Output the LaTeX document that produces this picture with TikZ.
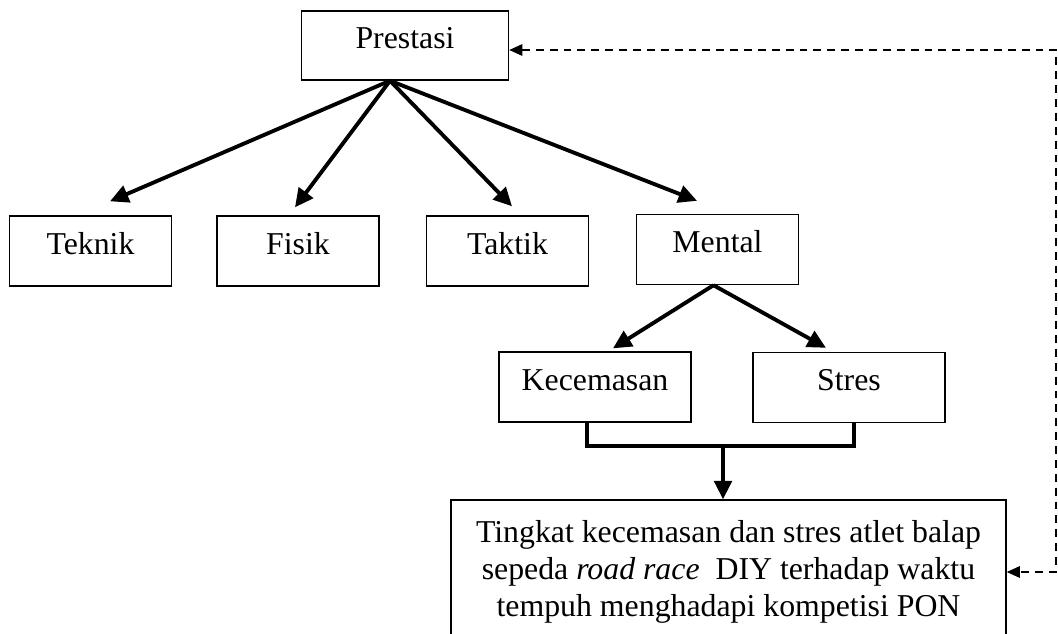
\documentclass[tikz,border=0pt]{standalone}
\usepackage{fontspec}
\setmainfont{Liberation Serif}
\usetikzlibrary{arrows.meta,positioning,calc}

\begin{document}
\begin{tikzpicture}[
    box/.style={rectangle, draw=black, line width=0.8pt, minimum width=3.24cm, minimum height=1.4cm,
      align=center, text height=0.7em, text depth=0.35em, font=\fontsize{18.1}{21}\selectfont},
    wide/.style={rectangle, draw=black, line width=0.8pt, minimum width=11.1cm, minimum height=2.88cm,
      align=center, font=\fontsize{18.1}{21}\selectfont},
    arrow/.style={line width=2.2pt, -{Triangle[length=10.5pt, width=10pt]}},
    bracket/.style={line width=2.2pt},
    feedback/.style={line width=1.1pt, dash pattern=on 4.5pt off 3.4pt,
      {Triangle[length=7.5pt, width=6.5pt]}-{Triangle[length=7.5pt, width=6.5pt]}}
  ]
    \useasboundingbox (0,0) rectangle (21.16,-12.66);
    % Top box
    \node[box, minimum width=4.14cm, minimum height=1.38cm] (prestasi) at (8.10, -0.91) {Prestasi};
    % Factor boxes
    \node[box] (teknik) at (1.81, -5.02) {Teknik};
    \node[box] (fisik) at (5.96, -5.02) {Fisik};
    \node[box] (taktik) at (10.15, -5.02) {Taktik};
    \node[box] (mental) at (14.35, -4.99) {Mental};
    % Mental factors
    \node[box, minimum width=3.84cm] (kecemasan) at (11.90, -7.74) {Kecemasan};
    \node[box, minimum width=3.84cm] (stres) at (16.98, -7.75) {Stres};
    % Research box
    \node[wide] (tingkat) at (14.57, -11.44) {
      Tingkat kecemasan dan stres atlet balap\\
      sepeda \textit{road race}\ \ DIY terhadap waktu\\
      tempuh menghadapi kompetisi PON
    };
    % Arrows
    \coordinate (apex) at ([xshift=-0.3cm]prestasi.south);
    \draw[arrow] (apex) -- ([xshift=0.39cm, yshift=0.28cm]teknik.north);
    \draw[arrow] (apex) -- ([xshift=-0.06cm, yshift=0.16cm]fisik.north);
    \draw[arrow] (apex) -- ([xshift=0.09cm, yshift=0.18cm]taktik.north);
    \draw[arrow] (apex) -- ([xshift=-0.41cm, yshift=0.26cm]mental.north);
    \draw[arrow] ([xshift=-0.08cm]mental.south) -- ([xshift=0.36cm, yshift=0.06cm]kecemasan.north);
    \draw[arrow] ([xshift=-0.08cm]mental.south) -- ([xshift=-0.46cm, yshift=0.08cm]stres.north);
    \draw[bracket] ([xshift=-0.16cm]kecemasan.south) -- ++(0,-0.46) -| ([xshift=0.1cm]stres.south);
    \coordinate (join) at ([xshift=-0.11cm]tingkat.north |- 0,-8.9);
    \draw[arrow] (join) -- (join |- tingkat.north);
    % Feedback loop
    \coordinate (loop) at (21.12, -6);
    \draw[feedback] ([yshift=-0.09cm]prestasi.east) -| (loop) |- (tingkat.east);
  \end{tikzpicture}
\end{document}
